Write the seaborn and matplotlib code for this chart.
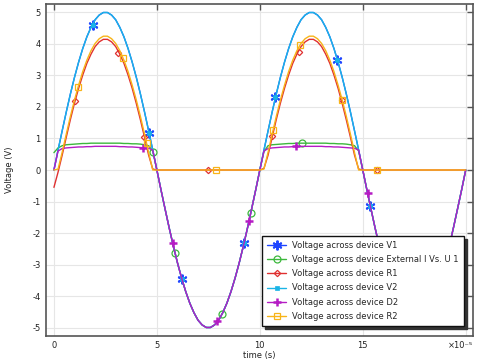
import matplotlib
matplotlib.use("Agg")
import matplotlib.pyplot as plt
from matplotlib.lines import Line2D
import seaborn as sns
import pandas as pd

# time axis (units of 1e-5 s), sampled every 0.2
t = [0.0, 0.2, 0.4, 0.6, 0.8, 1.0, 1.2, 1.4, 1.6, 1.8, 2.0, 2.2, 2.4, 2.6, 2.8, 3.0, 3.2, 3.4, 3.6, 3.8,
     4.0, 4.2, 4.4, 4.6, 4.8, 5.0, 5.2, 5.4, 5.6, 5.8, 6.0, 6.2, 6.4, 6.6, 6.8, 7.0, 7.2, 7.4, 7.6, 7.8,
     8.0, 8.2, 8.4, 8.6, 8.8, 9.0, 9.2, 9.4, 9.6, 9.8, 10.0, 10.2, 10.4, 10.6, 10.8, 11.0, 11.2, 11.4,
     11.6, 11.8, 12.0, 12.2, 12.4, 12.6, 12.8, 13.0, 13.2, 13.4, 13.6, 13.8, 14.0, 14.2, 14.4, 14.6,
     14.8, 15.0, 15.2, 15.4, 15.6, 15.8, 16.0, 16.2, 16.4, 16.6, 16.8, 17.0, 17.2, 17.4, 17.6, 17.8,
     18.0, 18.2, 18.4, 18.6, 18.8, 19.0, 19.2, 19.4, 19.6, 19.8, 20.0]

v1 = [0, 0.63, 1.24, 1.84, 2.41, 2.94, 3.42, 3.85, 4.22, 4.52, 4.76, 4.91, 4.99,
      4.99, 4.91, 4.76, 4.52, 4.22, 3.85, 3.42, 2.94, 2.41, 1.84, 1.24, 0.63, 0,
      -0.63, -1.24, -1.84, -2.41, -2.94, -3.42, -3.85, -4.22, -4.52, -4.76, -4.91, -4.99,
      -4.99, -4.91, -4.76, -4.52, -4.22, -3.85, -3.42, -2.94, -2.41, -1.84, -1.24, -0.63, 0,
      0.63, 1.24, 1.84, 2.41, 2.94, 3.42, 3.85, 4.22, 4.52, 4.76, 4.91, 4.99,
      4.99, 4.91, 4.76, 4.52, 4.22, 3.85, 3.42, 2.94, 2.41, 1.84, 1.24, 0.63, 0,
      -0.63, -1.24, -1.84, -2.41, -2.94, -3.42, -3.85, -4.22, -4.52, -4.76, -4.91, -4.99,
      -4.99, -4.91, -4.76, -4.52, -4.22, -3.85, -3.42, -2.94, -2.41, -1.84, -1.24, -0.63, 0]

ext = [0.55, 0.70, 0.77, 0.80, 0.81, 0.82, 0.83, 0.84, 0.84, 0.85, 0.85, 0.85, 0.85,
       0.85, 0.85, 0.85, 0.85, 0.84, 0.84, 0.83, 0.83, 0.82, 0.80, 0.77, 0.60, 0,
       -0.63, -1.24, -1.84, -2.41, -2.94, -3.42, -3.85, -4.22, -4.52, -4.76, -4.91, -4.99,
       -4.99, -4.91, -4.76, -4.52, -4.22, -3.85, -3.42, -2.94, -2.41, -1.84, -1.24, -0.63, 0,
       0.58, 0.77, 0.80, 0.81, 0.82, 0.83, 0.84, 0.84, 0.85, 0.85, 0.85, 0.85,
       0.85, 0.85, 0.85, 0.85, 0.84, 0.84, 0.83, 0.83, 0.82, 0.80, 0.77, 0.60, 0,
       -0.63, -1.24, -1.84, -2.41, -2.94, -3.42, -3.85, -4.22, -4.52, -4.76, -4.91, -4.99,
       -4.99, -4.91, -4.76, -4.52, -4.22, -3.85, -3.42, -2.94, -2.41, -1.84, -1.24, -0.63, 0]

r1 = [-0.55, -0.07, 0.47, 1.04, 1.60, 2.12, 2.59, 3.01, 3.38, 3.67, 3.91, 4.06, 4.14,
      4.14, 4.06, 3.91, 3.67, 3.38, 3.01, 2.59, 2.11, 1.59, 1.04, 0.47, 0.03, 0,
      0, 0, 0, 0, 0, 0, 0, 0, 0, 0, 0, 0, 0, 0, 0, 0, 0, 0, 0, 0, 0, 0, 0, 0, 0,
      0.05, 0.47, 1.04, 1.60, 2.12, 2.59, 3.01, 3.38, 3.67, 3.91, 4.06, 4.14,
      4.14, 4.06, 3.91, 3.67, 3.38, 3.01, 2.59, 2.11, 1.59, 1.04, 0.47, 0.03, 0,
      0, 0, 0, 0, 0, 0, 0, 0, 0, 0, 0, 0, 0, 0, 0, 0, 0, 0, 0, 0, 0, 0, 0, 0, 0]

v2 = [0, 0.63, 1.24, 1.84, 2.41, 2.94, 3.42, 3.85, 4.22, 4.52, 4.76, 4.91, 4.99,
      4.99, 4.91, 4.76, 4.52, 4.22, 3.85, 3.42, 2.94, 2.41, 1.84, 1.24, 0.63, 0,
      -0.63, -1.24, -1.84, -2.41, -2.94, -3.42, -3.85, -4.22, -4.52, -4.76, -4.91, -4.99,
      -4.99, -4.91, -4.76, -4.52, -4.22, -3.85, -3.42, -2.94, -2.41, -1.84, -1.24, -0.63, 0,
      0.63, 1.24, 1.84, 2.41, 2.94, 3.42, 3.85, 4.22, 4.52, 4.76, 4.91, 4.99,
      4.99, 4.91, 4.76, 4.52, 4.22, 3.85, 3.42, 2.94, 2.41, 1.84, 1.24, 0.63, 0,
      -0.63, -1.24, -1.84, -2.41, -2.94, -3.42, -3.85, -4.22, -4.52, -4.76, -4.91, -4.99,
      -4.99, -4.91, -4.76, -4.52, -4.22, -3.85, -3.42, -2.94, -2.41, -1.84, -1.24, -0.63, 0]

d2 = [0, 0.60, 0.68, 0.70, 0.71, 0.72, 0.73, 0.73, 0.74, 0.74, 0.75, 0.75, 0.75,
      0.75, 0.75, 0.75, 0.74, 0.74, 0.73, 0.73, 0.72, 0.71, 0.70, 0.69, 0.63, 0,
      -0.63, -1.24, -1.84, -2.41, -2.94, -3.42, -3.85, -4.22, -4.52, -4.76, -4.91, -4.99,
      -4.99, -4.91, -4.76, -4.52, -4.22, -3.85, -3.42, -2.94, -2.41, -1.84, -1.24, -0.63, 0,
      0.60, 0.68, 0.70, 0.71, 0.72, 0.73, 0.73, 0.74, 0.74, 0.75, 0.75, 0.75,
      0.75, 0.75, 0.75, 0.74, 0.74, 0.73, 0.73, 0.72, 0.71, 0.70, 0.69, 0.63, 0,
      -0.63, -1.24, -1.84, -2.41, -2.94, -3.42, -3.85, -4.22, -4.52, -4.76, -4.91, -4.99,
      -4.99, -4.91, -4.76, -4.52, -4.22, -3.85, -3.42, -2.94, -2.41, -1.84, -1.24, -0.63, 0]

r2 = [0, 0.03, 0.56, 1.14, 1.70, 2.22, 2.69, 3.12, 3.48, 3.78, 4.01, 4.16, 4.24,
      4.24, 4.16, 4.01, 3.78, 3.48, 3.12, 2.69, 2.22, 1.70, 1.14, 0.55, 0, 0,
      0, 0, 0, 0, 0, 0, 0, 0, 0, 0, 0, 0, 0, 0, 0, 0, 0, 0, 0, 0, 0, 0, 0, 0, 0,
      0.03, 0.56, 1.14, 1.70, 2.22, 2.69, 3.12, 3.48, 3.78, 4.01, 4.16, 4.24,
      4.24, 4.16, 4.01, 3.78, 3.48, 3.12, 2.69, 2.22, 1.70, 1.14, 0.55, 0, 0,
      0, 0, 0, 0, 0, 0, 0, 0, 0, 0, 0, 0, 0, 0, 0, 0, 0, 0, 0, 0, 0, 0, 0, 0, 0]

# marker positions along each curve
v1_mk_t = [1.88, 4.63, 6.23, 9.24, 10.76, 13.77, 15.37]
v1_mk_v = [4.61, 1.18, -3.46, -2.32, 2.32, 3.48, -1.14]
ext_mk_t = [4.82, 5.87, 8.14, 9.55, 12.06]
ext_mk_v = [0.58, -2.62, -4.56, -1.37, 0.86]
r1_mk_t = [1.03, 3.12, 4.38, 7.46, 10.61, 11.91, 14.0, 15.69]
r1_mk_v = [2.19, 3.72, 1.05, 0.0, 1.08, 3.74, 2.22, 0.0]
d2_mk_t = [4.34, 5.76, 7.93, 9.47, 11.78, 15.23]
d2_mk_v = [0.71, -2.32, -4.80, -1.63, 0.76, -0.73]
r2_mk_t = [1.17, 3.37, 4.50, 7.86, 10.65, 11.94, 14.0, 15.69]
r2_mk_v = [2.64, 3.55, 0.86, 0.0, 1.27, 3.96, 2.22, 0.0]

labels = ["Voltage across device V1",
          "Voltage across device External I Vs. U 1",
          "Voltage across device R1",
          "Voltage across device V2",
          "Voltage across device D2",
          "Voltage across device R2"]

sns.set_theme(style="whitegrid")
plt.rcParams["font.family"] = ["DejaVu Sans"]
plt.rcParams["axes.unicode_minus"] = False

fig = plt.figure(figsize=(4.83, 3.63), dpi=100)
ax = fig.add_axes([0.0946, 0.0752, 0.8854, 0.9138])

df = pd.DataFrame({"t": t, "V1": v1, "Ext": ext, "R1": r1, "V2": v2, "D2": d2, "R2": r2})

c_v1 = "#1f45ff"
c_ext = "#3cb83c"
c_r1 = "#e03030"
c_v2 = "#1ab4e6"
c_d2 = "#b51cc4"
c_r2 = "#f8b418"
lw = 1.0

series = [
    ("V1", c_v1, dict(marker=(6, 2, 0), ms=7, mew=1.4, mfc=c_v1), v1_mk_t, v1_mk_v),
    ("Ext", c_ext, dict(marker="o", ms=5, mew=0.9, mfc="none"), ext_mk_t, ext_mk_v),
    ("R1", c_r1, dict(marker="D", ms=3.2, mew=0.9, mfc="none"), r1_mk_t, r1_mk_v),
    ("V2", c_v2, dict(marker="s", ms=2.5, mew=0.5, mfc=c_v2), v1_mk_t, v1_mk_v),
    ("D2", c_d2, dict(marker="+", ms=6, mew=1.8), d2_mk_t, d2_mk_v),
    ("R2", c_r2, dict(marker="s", ms=5, mew=0.9, mfc="none"), r2_mk_t, r2_mk_v),
]

handles = []
for i, (col, color, mk, mt, mv) in enumerate(series):
    sns.lineplot(data=df, x="t", y=col, color=color, linewidth=lw, ax=ax,
                 zorder=3 + 2 * i, estimator=None, sort=False)
    ax.plot(mt, mv, ls="none", color=color, mec=color, zorder=4 + 2 * i, **mk)
    handles.append(Line2D([0], [0], color=color, lw=lw, mec=color, **mk))

ax.set_xlim(-0.4, 20.37)
ax.set_ylim(-5.25, 5.26)
ax.set_xticks([0, 5, 10, 15, 20])
ax.set_xticklabels(["0", "5", "10", "15", ""])
ax.set_yticks([-5, -4, -3, -2, -1, 0, 1, 2, 3, 4, 5])
ax.set_yticklabels(["-5", "-4", "-3", "-2", "-1", "0", "1", "2", "3", "4", "5"])

ax.grid(True, color="#e6e6e6", linewidth=0.8)
for s in ax.spines.values():
    s.set_color("#555555")
    s.set_linewidth(1.2)
ax.tick_params(direction="in", top=True, right=True, length=4, width=1,
               color="#555555", labelsize=6, pad=3.5, labelcolor="#222222")

ax.set_xlabel("time (s)", fontsize=6, labelpad=1, color="#222222")
ax.set_ylabel("Voltage (V)", fontsize=6, labelpad=13, color="#222222")
fig.text(473 / 483, 1 - 348 / 363, "×10⁻⁵", fontsize=6, ha="right",
         va="baseline", color="#222222")

leg = ax.legend(handles, labels, loc="lower right", bbox_to_anchor=(0.978, 0.03),
                borderaxespad=0, fontsize=6, frameon=True, fancybox=False,
                shadow={"color": "#333333", "alpha": 1}, framealpha=1,
                edgecolor="#111111", handlelength=2.2, handletextpad=0.8,
                labelspacing=0.62, borderpad=0.6)
leg.get_frame().set_linewidth(1.0)
leg.set_zorder(30)

fig.savefig("out.png", dpi=100)
